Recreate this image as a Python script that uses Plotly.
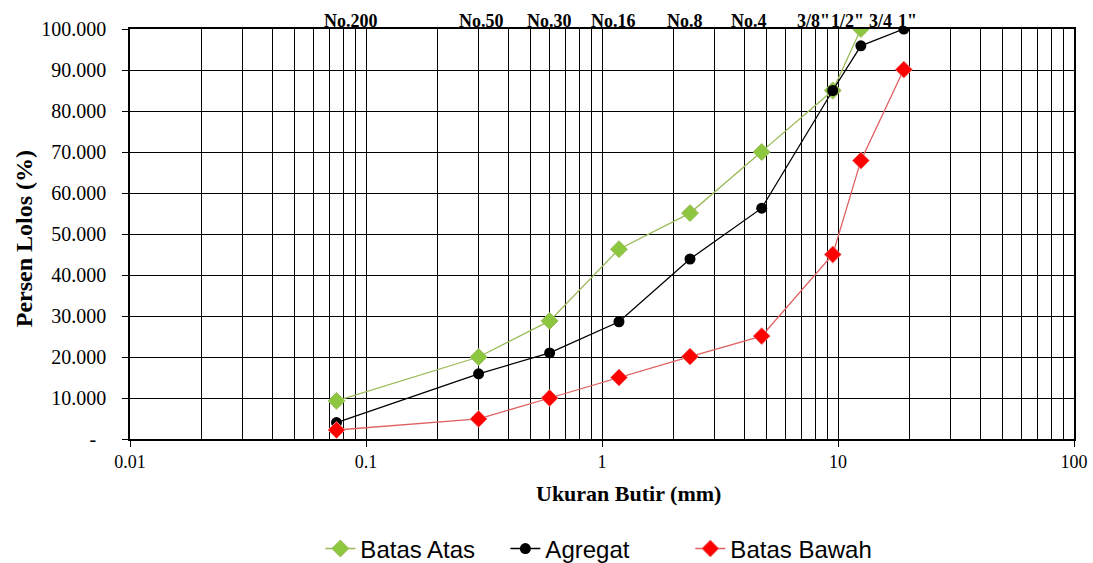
import math
import plotly.graph_objects as go

# sieve sizes (mm)
batas_atas_x = [0.075, 0.3, 0.6, 1.18, 2.36, 4.75, 9.5, 12.5]
batas_atas = [9.3, 20.0, 28.8, 46.3, 55.1, 70.0, 85.0, 100.0]

agregat_x = [0.075, 0.3, 0.6, 1.18, 2.36, 4.75, 9.5, 12.5, 19.0]
agregat = [4.0, 15.9, 21.0, 28.6, 43.9, 56.3, 85.0, 95.9, 100.0]

batas_bawah_x = [0.075, 0.3, 0.6, 1.18, 2.36, 4.75, 9.5, 12.5, 19.0]
batas_bawah = [2.2, 4.9, 10.0, 15.0, 20.1, 25.1, 45.0, 67.9, 90.1]

# top sieve labels
sieve_labels = ["No.200", "No.50", "No.30", "No.16", "No.8", "No.4", "3/8\"", "1/2\"", "3/4", "1\""]
sieve_label_mm = [0.075, 0.3, 0.6, 1.18, 2.36, 4.75, 9.5, 12.5, 19.0, 25.0]
label_shift = [14, 3, 0, -5, -5, -13, -19, -13, -23, -24]

y_ticks = [0, 10, 20, 30, 40, 50, 60, 70, 80, 90, 100]
y_ticktext = ["-\u00a0\u00a0"] + [f"{v:.3f}" for v in y_ticks[1:]]
x_ticks = [0.01, 0.1, 1, 10, 100]
x_ticktext = ["0.01", "0.1", "1", "10", "100"]

fig = go.Figure()
fig.add_trace(go.Scatter(
    x=batas_atas_x, y=batas_atas, name="Batas Atas", mode="lines+markers",
    line=dict(color="#9BBB59", width=1.3),
    marker=dict(symbol="diamond", size=13, color="#8DC63F", line=dict(color="#9BBB59", width=1)),
))
fig.add_trace(go.Scatter(
    x=agregat_x, y=agregat, name="Agregat", mode="lines+markers",
    line=dict(color="#000000", width=1.3),
    marker=dict(symbol="circle", size=11, color="#000000"),
))
fig.add_trace(go.Scatter(
    x=batas_bawah_x, y=batas_bawah, name="Batas Bawah", mode="lines+markers",
    line=dict(color="#E06060", width=1.3),
    marker=dict(symbol="diamond", size=13, color="#FF0000", line=dict(color="#EE7777", width=1)),
))

annotations = []
for lab, xm, sh in zip(sieve_labels, sieve_label_mm, label_shift):
    annotations.append(dict(
        x=math.log10(xm), y=1, xref="x", yref="paper", text=f"<b>{lab}</b>",
        showarrow=False, yanchor="bottom", xanchor="center", xshift=sh, yshift=-4,
        font=dict(family="Liberation Serif", size=18, color="black"),
    ))
annotations.append(dict(
    x=0.5, y=-0.134, xref="paper", yref="paper", text="<b>Ukuran Butir (mm)</b>",
    showarrow=False, xanchor="center", yanchor="middle", xshift=26,
    font=dict(family="Liberation Serif", size=22, color="black"),
))
annotations.append(dict(
    x=-0.112, y=0.5, xref="paper", yref="paper", text="<b>Persen Lolos (%)</b>",
    showarrow=False, xanchor="center", yanchor="middle", textangle=-90, yshift=-5,
    font=dict(family="Liberation Serif", size=24, color="black"),
))

fig.update_layout(
    width=1093, height=563,
    margin=dict(l=130, r=19, t=29, b=124, autoexpand=False),
    paper_bgcolor="white", plot_bgcolor="white",
    font=dict(family="Liberation Serif", size=17, color="black"),
    showlegend=True,
    legend=dict(orientation="h", x=0.547, xref="container", xanchor="center",
                y=0.025, yref="container", yanchor="middle",
                font=dict(family="Liberation Sans", size=24, color="black"),
                itemwidth=30, entrywidth=140, traceorder="normal"),
    annotations=annotations,
)
fig.update_xaxes(
    type="log", range=[-2, 2], automargin=False,
    tickvals=x_ticks, ticktext=x_ticktext, tickfont=dict(size=18),
    ticks="outside", ticklen=6, tickcolor="black", tickwidth=1,
    showgrid=True, gridcolor="black", gridwidth=1,
    minor=dict(showgrid=True, gridcolor="black", gridwidth=1, dtick="D1"),
    showline=True, linecolor="black", linewidth=1.5, mirror=True,
    zeroline=False,
)
fig.update_yaxes(
    range=[0, 100], tickvals=y_ticks, ticktext=y_ticktext, automargin=False,
    tickfont=dict(size=20), ticklabelstandoff=12,
    ticks="outside", ticklen=6, tickcolor="black", tickwidth=1,
    showgrid=True, gridcolor="black", gridwidth=1,
    showline=True, linecolor="black", linewidth=1.5, mirror=True,
    zeroline=False,
)

fig.write_html("out.html")
